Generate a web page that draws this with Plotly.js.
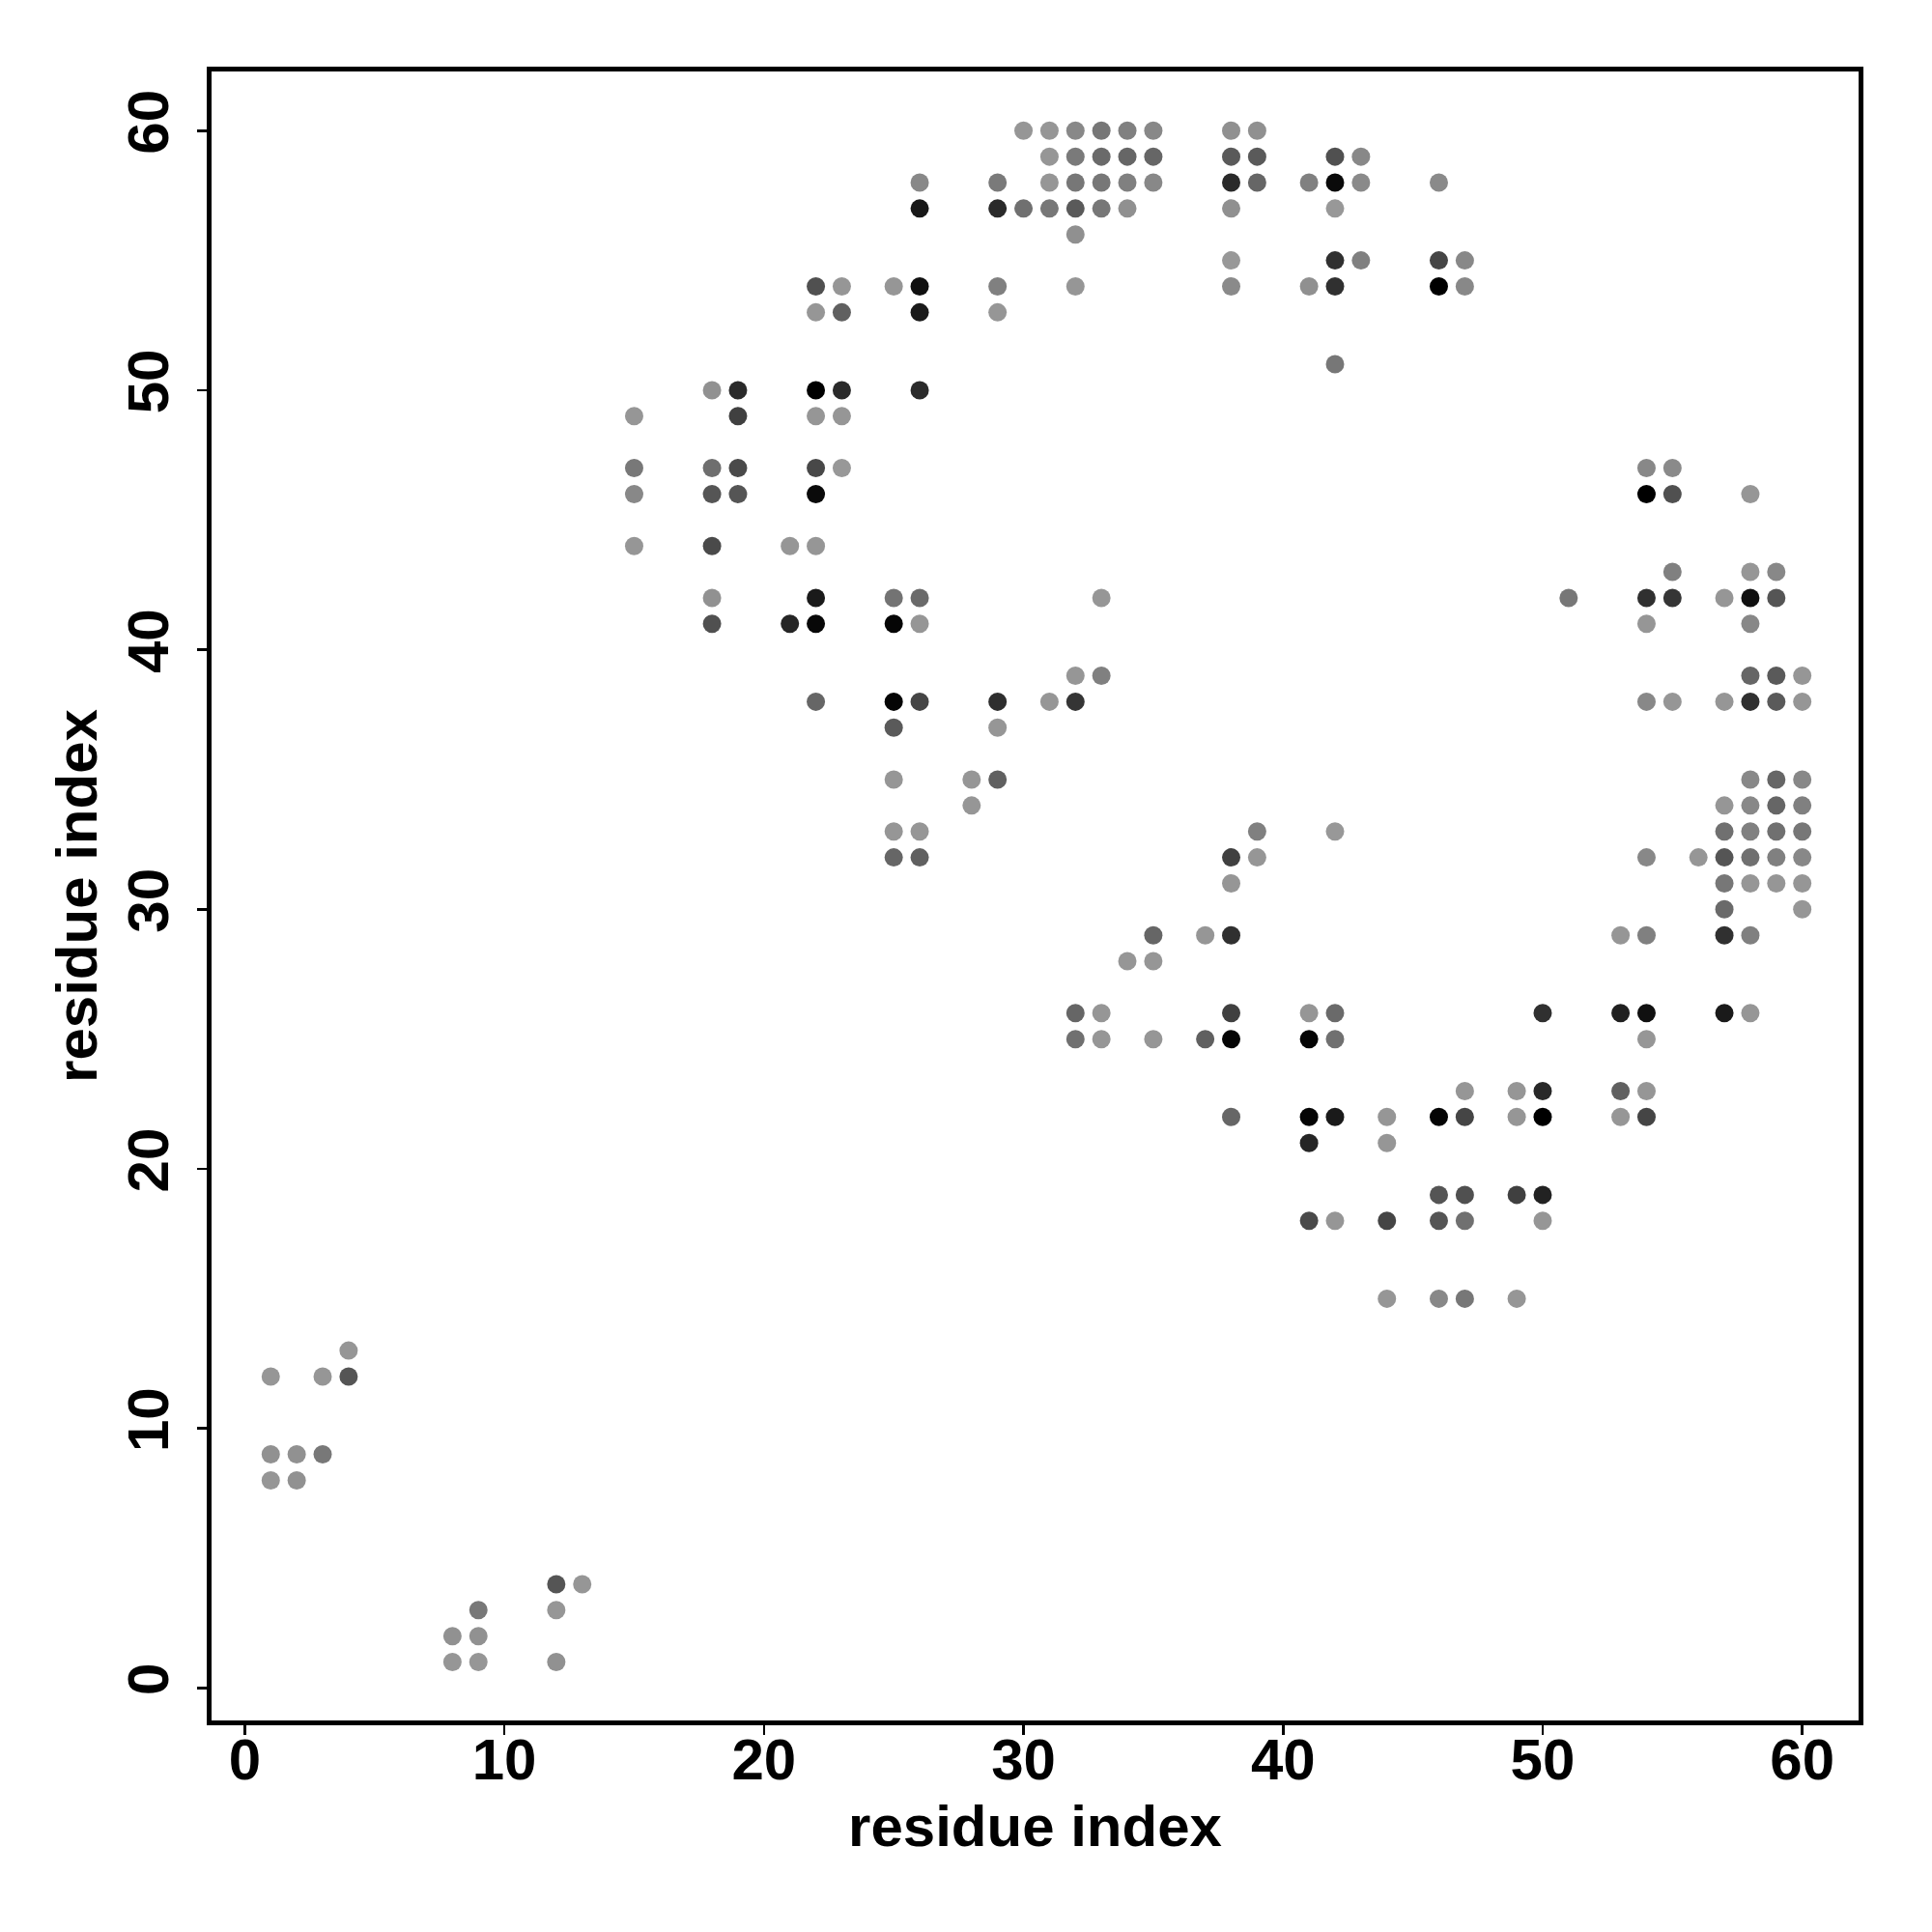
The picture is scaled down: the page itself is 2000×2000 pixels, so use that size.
<!DOCTYPE html>
<html>
<head>
<meta charset="utf-8">
<script src="https://cdn.plot.ly/plotly-3.0.1.min.js"></script>
<style>html,body{margin:0;padding:0;background:#fff;}#chart{width:2000px;height:2000px;}</style>
</head>
<body>
<div id="chart"></div>
<script>
// residue i (x), residue j (y), gray level of the dot (0 = black, 255 = white)
const resX = [1,1,1, 2,2, 3,3, 4,4, 8,8, 9,9,9, 12,12,12, 13,
  15,15,15,15, 18,18,18,18,18,18, 19,19,19,19, 21,21,
  22,22,22,22,22,22,22,22,22,22, 23,23,23,23,23,
  25,25,25,25,25,25,25,25, 26,26,26,26,26,26,26,26,26,26,
  28,28, 29,29,29,29,29,29,29, 30,30, 31,31,31,31,31,
  32,32,32,32,32,32,32,32,32,32, 33,33,33,33,33,33,33,33,
  34,34,34,34,34, 35,35,35,35,35,35, 37,37,
  38,38,38,38,38,38,38,38,38,38,38,38, 39,39,39,39,39,
  41,41,41,41,41,41,41, 42,42,42,42,42,42,42,42,42,42,42,
  43,43,43, 44,44,44,44, 46,46,46,46,46,46,46, 47,47,47,47,47,47,47,
  49,49,49,49, 50,50,50,50,50, 51, 53,53,53,53,
  54,54,54,54,54,54,54,54,54,54,54, 55,55,55,55,55, 56,
  57,57,57,57,57,57,57,57,57, 58,58,58,58,58,58,58,58,58,58,58,58,58,
  59,59,59,59,59,59,59,59,59, 60,60,60,60,60,60,60,60];
const resY = [12,9,8, 9,8, 12,9, 13,12, 2,1, 3,2,1, 4,3,1, 4,
  49,47,46,44, 50,47,46,44,42,41, 50,49,47,46, 44,41,
  54,53,50,49,47,46,44,42,41,38, 54,53,50,49,47,
  54,42,41,38,37,35,33,32, 58,57,54,53,50,42,41,38,33,32,
  35,34, 58,57,54,53,38,37,35, 60,57, 60,59,58,57,38,
  60,59,58,57,56,54,39,38,26,25, 60,59,58,57,42,39,26,25,
  60,59,58,57,28, 60,59,58,29,28,25, 29,25,
  60,59,58,57,55,54,32,31,29,26,25,22, 60,59,58,33,32,
  58,54,26,25,22,21,18, 59,58,57,55,54,51,33,26,25,22,18,
  59,58,55, 22,21,18,15, 58,55,54,22,19,18,15, 55,54,23,22,19,18,15,
  23,22,19,15, 26,23,22,19,18, 42, 29,26,23,22,
  47,46,42,41,38,32,29,26,25,23,22, 47,46,43,42,38, 32,
  42,38,34,33,32,31,30,29,26, 46,43,42,41,39,38,35,34,33,32,31,29,26,
  43,42,39,38,35,34,33,32,31, 39,38,35,34,33,32,31,30];
const shade = [150,145,150, 145,145, 150,120, 150,85, 145,150, 120,145,150, 85,150,145, 150,
  150,120,136,150, 145,110,85,74,145,80, 42,64,74,85, 150,37,
  80,150,0,150,72,10,150,26,8,102, 150,96,42,150,152,
  150,115,5,5,90,150,150,102, 136,24,16,26,42,106,150,69,150,96,
  150,150, 122,42,128,150,46,150,96, 150,112, 150,150,150,119,150,
  136,122,119,90,144,150,150,53,102,112, 119,106,119,119,150,128,150,150,
  128,102,128,144,150, 136,102,136,102,150,150, 150,96,
  144,90,42,144,152,138,64,150,48,64,5,102, 144,90,102,128,150,
  128,144,150,5,5,37,74, 80,10,152,48,48,119,152,106,112,26,150,
  136,138,128, 150,150,69,150, 138,69,0,5,85,85,136, 136,136,150,69,80,112,119,
  150,150,64,150, 48,40,0,34,150, 119, 150,32,96,150,
  136,0,48,150,136,136,128,16,150,150,69, 138,80,128,53,150, 150,
  150,150,150,112,85,119,106,48,26, 150,150,16,136,102,48,136,136,128,112,150,128,150,
  136,85,90,90,102,102,112,128,150, 150,150,136,128,119,136,150,150];
const tickVals = [0,10,20,30,40,50,60];
const axisTitle = 'residue index';

const colors = shade.map(g => `rgb(${g},${g},${g})`);
const fnt = {family: '"Liberation Sans", Arial, Helvetica, sans-serif', size: 60, color: '#000', weight: 'bold'};

const trace = {
  type: 'scatter', mode: 'markers', x: resX, y: resY,
  marker: {size: 19, color: colors, line: {width: 0}},
  hoverinfo: 'x+y'
};

const axisCommon = {
  tickvals: tickVals, ticktext: tickVals.map(String),
  showgrid: false, zeroline: false, showline: true, mirror: true,
  linecolor: '#000', linewidth: 5, ticks: 'outside', ticklen: 10, tickwidth: 2.5, tickcolor: '#000',
  tickfont: fnt
};

const layout = {
  width: 2000, height: 2000,
  paper_bgcolor: '#fff', plot_bgcolor: '#fff',
  margin: {l: 219, r: 76, t: 74, b: 219},
  showlegend: false,
  xaxis: Object.assign({}, axisCommon, {
    range: [-1.28, 62.17], ticklabelstandoff: -26,
    title: {text: axisTitle, font: fnt, standoff: 16}
  }),
  yaxis: Object.assign({}, axisCommon, {
    range: [-1.25, 62.28], tickangle: -90, ticklabelstandoff: 6,
    title: {text: axisTitle, font: fnt, standoff: 2}
  })
};

Plotly.newPlot('chart', [trace], layout, {displayModeBar: false, staticPlot: true});
</script>
</body>
</html>
